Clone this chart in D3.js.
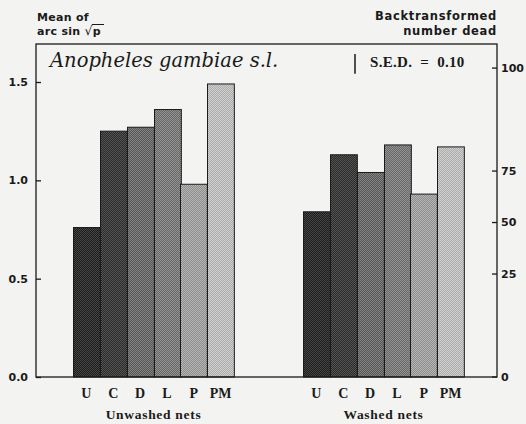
<!DOCTYPE html>
<html>
<head>
<meta charset="utf-8">
<script src="https://cdn.jsdelivr.net/npm/d3@7"></script>
<style>
  html, body { margin: 0; padding: 0; background: #f3f3f1; }
  svg { display: block; }
</style>
</head>
<body>
<script>
// Mean arc sin sqrt(p) mortality per net treatment
const groups = ["Unwashed nets", "Washed nets"];
const treatments = ["U", "C", "D", "L", "P", "PM"];
const unwashed = [0.76, 1.25, 1.27, 1.36, 0.98, 1.49];
const washed = [0.84, 1.13, 1.04, 1.18, 0.93, 1.17];
const leftTicks = [0.0, 0.5, 1.0, 1.5];
const rightTicks = [0, 25, 50, 75, 100];     // back-transformed % dead
const shades = [["#1c1c1c", "#464646"], ["#2a2a2a", "#545454"], ["#565656", "#848484"],
                ["#666666", "#949494"], ["#8c8c8c", "#b6b6b6"], ["#aaaaaa", "#d2d2d2"]];
const sed = 0.10;

const W = 526, H = 424;
const m = { left: 36, right: 29, top: 44, bottom: 47 };
const ink = "#1a1a1a";

const svg = d3.select("body").append("svg").attr("width", W).attr("height", H);
svg.append("rect").attr("width", W).attr("height", H).attr("fill", "#f3f3f1");

// halftone-like fills
const defs = svg.append("defs");
treatments.forEach((t, i) => {
  const p = defs.append("pattern").attr("id", "pat" + i)
    .attr("width", 2).attr("height", 2).attr("patternUnits", "userSpaceOnUse");
  p.append("rect").attr("width", 2).attr("height", 2).attr("fill", shades[i][1]);
  p.append("rect").attr("x", 0).attr("y", 0).attr("width", 1).attr("height", 1).attr("fill", shades[i][0]);
  p.append("rect").attr("x", 1).attr("y", 1).attr("width", 1).attr("height", 1).attr("fill", shades[i][0]);
});

const y = d3.scaleLinear().domain([0, 1.5]).range([H - m.bottom, 82]);
const x0 = d3.scaleBand().domain(groups).range([m.left, W - m.right])
  .paddingInner(0.3).paddingOuter(0.15).round(true);
const x1 = d3.scaleBand().domain(treatments).range([0, x0.bandwidth()]).padding(0);

const data = [unwashed, washed];

// bars
groups.forEach((g, gi) => {
  const gEl = svg.append("g").attr("transform", `translate(${Math.round(x0(g)) + 2},0)`);
  gEl.selectAll("rect").data(data[gi]).join("rect")
    .attr("x", (d, i) => Math.round(x1(treatments[i])) + 0.5)
    .attr("y", d => y(d))
    .attr("width", x1.bandwidth())
    .attr("height", d => y(0) - y(d))
    .attr("fill", (d, i) => `url(#pat${i})`)
    .attr("stroke", ink).attr("stroke-width", 1);

  // treatment labels
  gEl.selectAll("text.cat").data(treatments).join("text")
    .attr("class", "cat")
    .attr("x", t => x1(t) + x1.bandwidth() / 2)
    .attr("y", H - m.bottom + 21)
    .attr("text-anchor", "middle")
    .attr("font-family", "Liberation Serif, serif").attr("font-weight", "bold")
    .attr("font-size", 14).attr("fill", ink)
    .text(t => t);

  gEl.append("text")
    .attr("x", x0.bandwidth() / 2).attr("y", H - m.bottom + 42)
    .attr("text-anchor", "middle")
    .attr("font-family", "Liberation Serif, serif").attr("font-weight", "bold")
    .attr("font-size", 13.5).attr("letter-spacing", 0.7).attr("fill", ink)
    .text(g);
});

// frame
svg.append("rect")
  .attr("x", m.left).attr("y", m.top)
  .attr("width", W - m.left - m.right).attr("height", y(0) - m.top)
  .attr("fill", "none").attr("stroke", ink).attr("stroke-width", 1.3);

// left axis
const yAxis = d3.axisLeft(y).tickValues(leftTicks).tickFormat(d3.format(".1f"))
  .tickSizeInner(-5).tickSizeOuter(0).tickPadding(8);
const gl = svg.append("g").attr("transform", `translate(${m.left},0)`).call(yAxis);
gl.select(".domain").remove();
gl.selectAll("line").attr("stroke", ink).attr("stroke-width", 1.3);
gl.selectAll("text").attr("font-family", "DejaVu Sans, sans-serif")
  .attr("font-weight", "bold").attr("font-size", 11).attr("fill", ink);

// right axis: back-transformed percentage
const yr = p => y(Math.asin(Math.sqrt(p / 100)));
const gr = svg.append("g").attr("transform", `translate(${W - m.right},0)`);
const rt = gr.selectAll("g").data(rightTicks).join("g")
  .attr("transform", d => `translate(0,${yr(d)})`);
rt.append("line").attr("x1", -5).attr("x2", 0).attr("stroke", ink).attr("stroke-width", 1.3);
rt.append("text").attr("x", 4).attr("dy", "0.35em")
  .attr("font-family", "DejaVu Sans, sans-serif").attr("font-weight", "bold")
  .attr("font-size", 11).attr("fill", ink)
  .text(d => d);

// axis titles
const lt = svg.append("g").attr("font-family", "DejaVu Sans, sans-serif")
  .attr("font-weight", "bold").attr("font-size", 11).attr("fill", ink)
  .attr("letter-spacing", 0.3);
lt.append("text").attr("x", 37).attr("y", 21).text("Mean of");
const l2 = lt.append("text").attr("x", 37).attr("y", 35);
l2.append("tspan").text("arc sin ");
l2.append("tspan").attr("font-weight", "normal").attr("font-size", 12.5).text("√");
l2.append("tspan").text("p");
const bb = l2.node().getBBox();
const pStart = l2.node().getStartPositionOfChar(l2.text().length - 1).x;
lt.append("line").attr("x1", pStart - 1).attr("x2", bb.x + bb.width + 3)
  .attr("y1", 24.5).attr("y2", 24.5).attr("stroke", ink).attr("stroke-width", 1);

const rtl = svg.append("g").attr("font-family", "DejaVu Sans, sans-serif")
  .attr("font-weight", "bold").attr("font-size", 11.5).attr("fill", ink)
  .attr("letter-spacing", 0.7).attr("text-anchor", "end");
rtl.append("text").attr("x", W - m.right).attr("y", 20).text("Backtransformed");
rtl.append("text").attr("x", W - m.right).attr("y", 35).text("number dead");

// species title
svg.append("text").attr("x", 50).attr("y", 67)
  .attr("font-family", "DejaVu Serif, serif").attr("font-style", "italic")
  .attr("font-size", 19.5).attr("fill", ink)
  .text("Anopheles gambiae s.l.");

// standard error of difference bar
const sedX = 355, sedTop = 54;
svg.append("line").attr("x1", sedX).attr("x2", sedX)
  .attr("y1", sedTop).attr("y2", sedTop + (y(0) - y(sed)))
  .attr("stroke", ink).attr("stroke-width", 1.5);
svg.append("text").attr("x", 370).attr("y", 67)
  .attr("font-family", "Liberation Serif, serif").attr("font-weight", "bold")
  .attr("font-size", 15).attr("word-spacing", 4).attr("letter-spacing", 0.3)
  .attr("fill", ink)
  .text("S.E.D. = 0.10");
</script>
</body>
</html>
